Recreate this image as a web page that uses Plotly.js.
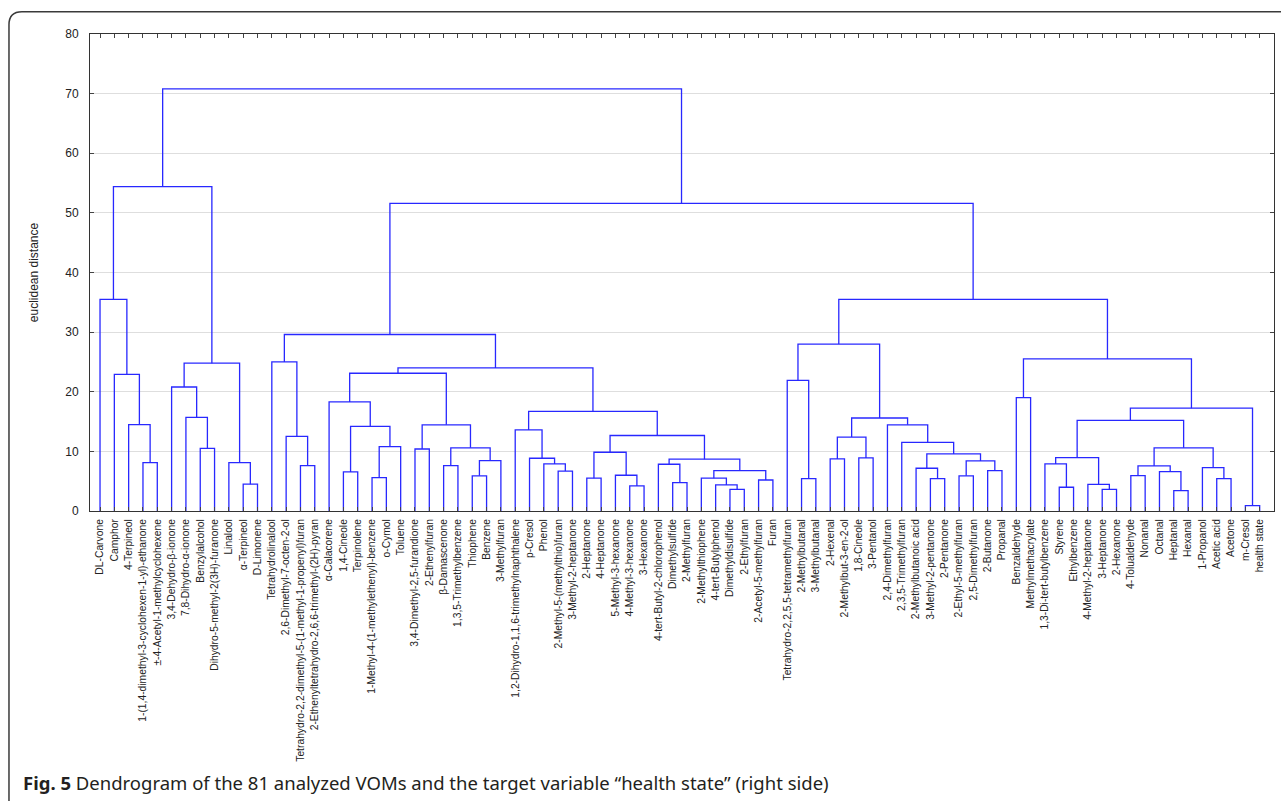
<!DOCTYPE html>
<html><head><meta charset="utf-8">
<script src="https://cdn.plot.ly/plotly-3.0.1.min.js"></script>
<style>html,body{margin:0;padding:0;background:#fff;overflow:hidden}#chart{width:1281px;height:801px}</style>
</head><body><div id="chart"></div>
<script>
// Leaf labels in dendrogram order (81 VOMs + target variable)
const leafLabels = [
"DL-Carvone","Camphor","4-Terpineol","1-(1,4-dimethyl-3-cyclohexen-1-yl)-ethanone","±-4-Acetyl-1-methylcyclohexene",
"3,4-Dehydro-β-ionone","7,8-Dihydro-α-ionone","Benzylalcohol","Dihydro-5-methyl-2(3H)-furanone","Linalool",
"α-Terpineol","D-Limonene","Tetrahydrolinalool","2,6-Dimethyl-7-octen-2-ol","Tetrahydro-2,2-dimethyl-5-(1-methyl-1-propenyl)furan",
"2-Ethenyltetrahydro-2,6,6-trimethyl-(2H)-pyran","α-Calacorene","1,4-Cineole","Terpinolene","1-Methyl-4-(1-methylethenyl)-benzene",
"o-Cymol","Toluene","3,4-Dimethyl-2,5-furandione","2-Ethenylfuran","β-Damascenone",
"1,3,5-Trimethylbenzene","Thiophene","Benzene","3-Methylfuran","1,2-Dihydro-1,1,6-trimethylnaphthalene",
"p-Cresol","Phenol","2-Methyl-5-(methylthio)furan","3-Methyl-2-heptanone","2-Heptanone",
"4-Heptanone","5-Methyl-3-hexanone","4-Methyl-3-hexanone","3-Hexanone","4-tert-Butyl-2-chlorophenol",
"Dimethylsulfide","2-Methylfuran","2-Methylthiophene","4-tert-Butylphenol","Dimethyldisulfide",
"2-Ethylfuran","2-Acetyl-5-methylfuran","Furan","Tetrahydro-2,2,5,5-tetramethylfuran","2-Methylbutanal",
"3-Methylbutanal","2-Hexenal","2-Methylbut-3-en-2-ol","1,8-Cineole","3-Pentanol",
"2,4-Dimethylfuran","2,3,5-Trimethylfuran","2-Methylbutanoic acid","3-Methyl-2-pentanone","2-Pentanone",
"2-Ethyl-5-methylfuran","2,5-Dimethylfuran","2-Butanone","Propanal","Benzaldehyde",
"Methylmethacrylate","1,3-Di-tert-butylbenzene","Styrene","Ethylbenzene","4-Methyl-2-heptanone",
"3-Heptanone","2-Hexanone","4-Tolualdehyde","Nonanal","Octanal",
"Heptanal","Hexanal","1-Propanol","Acetic acid","Acetone",
"m-Cresol","health state"
];

// Linkage: merge k creates cluster id (82 + k) from mergeLeft[k] and mergeRight[k]
const mergeLeft = [
3,2,1,0, 7,6,5,10,9,88,85,
14,13,12, 17,19,97,96,16, 22,24,26,103,102,101,100,
32,31,30,29, 34,37,36,112, 40,39, 44,43,42,46,120,117,115,111,107,95,
49,48, 51,53,130, 58,57,60,62,135,134,56,55,132,129,
64, 67,66,70,69,145, 72,75,74,149,78,77,152,148,80,156,143,142,127,92
];
const mergeRight = [
4,82,83,84, 8,86,87,11,89,90,91,
15,93,94, 18,20,21,98,99, 23,25,27,28,104,105,106,
33,108,109,110, 35,38,113,114, 41,116, 45,118,119,47,121,122,123,124,125,126,
50,128, 52,54,131, 59,133,61,63,136,137,138,139,140,141,
65, 68,144,71,146,147, 73,76,150,151,79,153,154,155,81,157,158,159,160,161
];
const mergeHeight = [
8.1,14.5,22.9,35.5, 10.5,15.7,20.8,4.5,8.1,24.8,54.4,
7.6,12.5,25.0, 6.55,5.6,10.8,14.2,18.3, 10.4,7.6,5.9,8.45,10.6,14.45,23.1,
6.7,7.9,8.85,13.6, 5.5,4.2,6.0,9.85, 4.76,7.84, 3.64,4.37,5.5,5.2,6.78,8.7,12.66,16.7,24.0,29.6,
5.43,21.9, 8.74,8.9,12.4, 5.43,7.17,5.9,6.78,8.4,9.58,11.5,14.45,15.6,28.0,
19.0, 3.98,7.9,3.64,4.48,8.96, 5.94,3.42,6.6,7.56,5.43,7.28,10.6,15.2,0.9,17.25,25.5,35.5,51.6,70.8
];
const yTickVals = [0,10,20,30,40,50,60,70,80];

// ---- build dendrogram segments from linkage ----
const n = leafLabels.length;
const nodeX = [], nodeH = [];
for (let i = 0; i < n; i++) { nodeX.push(i); nodeH.push(0); }
const xs = [], ys = [];
for (let k = 0; k < mergeHeight.length; k++) {
  const a = mergeLeft[k], b = mergeRight[k], h = mergeHeight[k];
  xs.push(nodeX[a], nodeX[a], nodeX[b], nodeX[b], null);
  ys.push(nodeH[a], h, h, nodeH[b], null);
  nodeX.push((nodeX[a] + nodeX[b]) / 2);
  nodeH.push(h);
}

// pixel helpers for frame/caption placement
const L = 90, R = 1273.7, T = 34.3, B = 511;
const px = v => (v - L) / (R - L);
const py = v => (B - v) / (B - T);

const trace = {
  type: 'scatter', mode: 'lines', x: xs, y: ys,
  line: {color: 'rgb(40,40,255)', width: 1.3},
  hoverinfo: 'skip', showlegend: false
};

const layout = {
  width: 1281, height: 801,
  margin: {l: L, r: 1281 - R, t: T, b: 801 - B, pad: 0},
  paper_bgcolor: '#fff', plot_bgcolor: '#fff',
  font: {family: 'Liberation Sans, Arial, sans-serif', color: '#222'},
  showlegend: false,
  xaxis: {
    range: [-0.7, 82.0], tickmode: 'array',
    tickvals: leafLabels.map((_, i) => i), ticktext: leafLabels,
    tickangle: -90, tickfont: {size: 10.3, color: '#222', family: 'Liberation Sans, Arial, sans-serif'},
    ticklabelstandoff: 3,
    ticks: 'inside', ticklen: 4, tickcolor: '#444', tickwidth: 1,
    showline: true, linecolor: '#333', linewidth: 1, mirror: 'ticks',
    showgrid: false, zeroline: false, fixedrange: true, automargin: false
  },
  yaxis: {
    range: [0, 80], tickmode: 'array', tickvals: yTickVals,
    tickfont: {size: 12, color: '#222'},
    ticklabelstandoff: 8,
    ticks: 'inside', ticklen: 4, tickcolor: '#444',
    showline: true, linecolor: '#333', linewidth: 1, mirror: 'ticks',
    showgrid: true, gridcolor: '#dedede', gridwidth: 1, zeroline: false,
    title: {text: 'euclidean distance', font: {size: 12, color: '#222'}, standoff: 24},
    fixedrange: true, automargin: false
  },
  shapes: [{
    type: 'path', xref: 'paper', yref: 'paper',
    path: `M ${px(1300)} ${py(12)} L ${px(22)} ${py(12)} Q ${px(9)} ${py(12)} ${px(9)} ${py(25)} L ${px(9)} ${py(830)}`,
    line: {color: '#3a3a3a', width: 1.5}
  }],
  annotations: [{
    xref: 'paper', yref: 'paper', x: px(21), y: py(782), xanchor: 'left', yanchor: 'middle',
    showarrow: false, align: 'left',
    text: '<b>Fig. 5</b> Dendrogram of the 81 analyzed VOMs and the target variable “health state” (right side)',
    font: {family: 'Noto Sans, Open Sans, sans-serif', size: 18.5, color: '#231f20'}
  }]
};

Plotly.newPlot('chart', [trace], layout, {staticPlot: true, displayModeBar: false});
</script>
</body></html>
